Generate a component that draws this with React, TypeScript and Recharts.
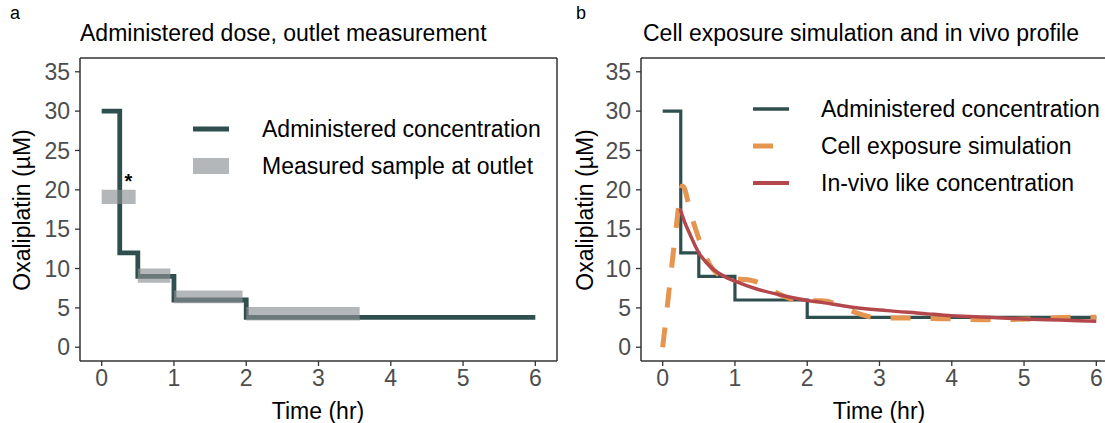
import React from 'react';
import { LineChart, Line, XAxis, YAxis, ReferenceArea, ReferenceDot, ReferenceLine } from 'recharts';

// axis ticks
const timeTicks = [0, 1, 2, 3, 4, 5, 6];
const concTicks = [0, 5, 10, 15, 20, 25, 30, 35];

// administered concentration (step profile)
const doseTime = [0, 0.25, 0.5, 1, 2, 6];
const doseConc = [30, 12, 9, 6, 3.8, 3.8];

// measured samples at outlet (ranges)
const sampleStart = [0, 0.5, 1, 2];
const sampleEnd = [0.47, 0.95, 1.95, 3.57];
const sampleLow = [18.2, 8.2, 5.6, 3.4];
const sampleHigh = [20, 10, 7.2, 5.1];

// cell exposure simulation
const cellTime = [0, 0.05, 0.1, 0.15, 0.2, 0.24, 0.27, 0.3, 0.35, 0.4, 0.47, 0.55, 0.65, 0.75, 0.88, 1.0, 1.15, 1.3, 1.45, 1.6, 1.8, 2.0, 2.2, 2.4, 2.7, 3.0, 3.4, 4.0, 4.5, 5.1, 5.7, 6.0];
const cellConc = [0, 4, 8.2, 12.3, 16.3, 19.4, 20.5, 20.2, 18.5, 16.7, 14.6, 12.6, 10.5, 9.4, 8.9, 8.7, 8.6, 8.3, 7.6, 6.8, 6.1, 5.9, 5.9, 5.5, 4.3, 3.7, 3.7, 3.6, 3.5, 3.6, 3.8, 3.8];

// in-vivo like concentration
const vivoTime = [0.24, 0.3, 0.38, 0.5, 0.6, 0.7, 0.85, 1.0, 1.3, 1.6, 2.0, 2.2, 2.6, 3.1, 3.6, 4.0, 4.5, 5.0, 5.5, 6.0];
const vivoConc = [17.6, 16, 14.3, 12, 10.8, 9.9, 9.0, 8.4, 7.4, 6.7, 5.95, 5.7, 5.1, 4.65, 4.3, 4.0, 3.8, 3.6, 3.45, 3.3];

// asterisk annotation
const starTime = 0.37;
const starConc = 21.1;

const doseData = doseTime.map((t, i) => ({ t, c: doseConc[i] }));
const cellData = cellTime.map((t, i) => ({ t, c: cellConc[i] }));
const vivoData = vivoTime.map((t, i) => ({ t, c: vivoConc[i] }));

const X_DOMAIN: [number, number] = [-0.3, 6.3];
const Y_DOMAIN: [number, number] = [-1.75, 36.75];

const TEAL = '#2F4F4F';
const ORANGE = '#E5954F';
const RED = '#B4474B';
const GREY = 'rgb(140,145,148)';
const FONT = '"Liberation Sans", Arial, sans-serif';
const FS = 23;

type LegendItem = { label: string; kind: 'line' | 'dash' | 'rect'; color: string; width: number };

const Legend = ({ items, top, keyLeft, textLeft, gap }: { items: LegendItem[]; top: number; keyLeft: number; textLeft: number; gap: number }) => (
  <>
    {items.map((it, i) => (
      <div key={it.label} style={{ position: 'absolute', left: keyLeft, top: top + i * gap, transform: 'translateY(-50%)', display: 'flex', alignItems: 'center' }}>
        <svg width={36} height={20}>
          {it.kind === 'rect' ? (
            <rect x={0} y={2} width={36} height={16} fill={GREY} fillOpacity={0.65} />
          ) : (
            <line x1={0} x2={36} y1={10} y2={10} stroke={it.color} strokeWidth={it.width} strokeDasharray={it.kind === 'dash' ? '20 16' : undefined} />
          )}
        </svg>
        <span style={{ position: 'absolute', left: textLeft - keyLeft, whiteSpace: 'nowrap', fontSize: FS, lineHeight: 1, color: '#000' }}>{it.label}</span>
      </div>
    ))}
  </>
);

const border = { stroke: '#333', strokeWidth: 1.5, ifOverflow: 'visible' as const };

// panel b is cut at the right edge of the figure, so its chart is narrower with a negative right margin
const Frame = ({ left, width, right, children }: { left: number; width: number; right: number; children: React.ReactNode }) => (
  <div style={{ position: 'absolute', left, top: 0, width, height: 423 }}>
    <LineChart width={width} height={423} margin={{ top: 58, right, bottom: 22, left: 30 }}>
      <XAxis
        type="number"
        dataKey="t"
        domain={X_DOMAIN}
        ticks={timeTicks}
        allowDataOverflow
        axisLine={false}
        height={40}
        tickSize={5}
        tickMargin={4}
        tickLine={{ stroke: '#333', strokeWidth: 1.3 }}
        tick={{ fill: '#4D4D4D', fontSize: FS, fontFamily: FONT }}
      />
      <YAxis
        type="number"
        domain={Y_DOMAIN}
        ticks={concTicks}
        allowDataOverflow
        axisLine={false}
        width={50}
        tickSize={5}
        tickMargin={5}
        tickLine={{ stroke: '#333', strokeWidth: 1.3 }}
        tick={{ fill: '#4D4D4D', fontSize: FS, fontFamily: FONT }}
      />
      {children}
      {/* panel border */}
      <ReferenceLine x={X_DOMAIN[0]} {...border} />
      <ReferenceLine x={X_DOMAIN[1]} {...border} />
      <ReferenceLine y={Y_DOMAIN[0]} {...border} />
      <ReferenceLine y={Y_DOMAIN[1]} {...border} />
    </LineChart>
  </div>
);

export default function App() {
  return (
    <div style={{ position: 'absolute', left: 0, top: 0, width: 1105, height: 423, overflow: 'hidden', background: '#fff', fontFamily: FONT }}>
      <Frame left={0} width={560} right={3}>
        <Line data={doseData} dataKey="c" type="stepAfter" stroke={TEAL} strokeWidth={4.8} dot={false} isAnimationActive={false} />
        {sampleStart.map((s, i) => (
          <ReferenceArea key={i} x1={s} x2={sampleEnd[i]} y1={sampleLow[i]} y2={sampleHigh[i]} fill={GREY} fillOpacity={0.65} stroke="none" zIndex={600} />
        ))}
        <ReferenceDot x={starTime} y={starConc} r={0} fill="none" stroke="none" label={{ value: '*', position: 'center', fontSize: 20, fill: '#000', fontWeight: 'bold' }} />
      </Frame>
      <Frame left={561} width={544} right={-13}>
        <Line data={doseData} dataKey="c" type="stepAfter" stroke={TEAL} strokeWidth={3.2} dot={false} isAnimationActive={false} />
        <Line data={cellData} dataKey="c" type="monotone" stroke={ORANGE} strokeWidth={5} strokeDasharray="20 20" dot={false} isAnimationActive={false} />
        <Line data={vivoData} dataKey="c" type="monotone" stroke={RED} strokeWidth={3.5} dot={false} isAnimationActive={false} />
      </Frame>

      {/* panel letters and titles */}
      <div style={{ position: 'absolute', left: 10, top: 4, fontSize: 18, lineHeight: 1 }}>a</div>
      <div style={{ position: 'absolute', left: 576, top: 4, fontSize: 18, lineHeight: 1 }}>b</div>
      <div style={{ position: 'absolute', left: 80, top: 33, transform: 'translateY(-50%)', fontSize: FS, lineHeight: 1, whiteSpace: 'nowrap' }}>Administered dose, outlet measurement</div>
      <div style={{ position: 'absolute', left: 643, top: 33, transform: 'translateY(-50%)', fontSize: FS, lineHeight: 1, whiteSpace: 'nowrap' }}>Cell exposure simulation and in vivo profile</div>

      {/* axis titles */}
      {[22, 585].map((x) => (
        <div key={x} style={{ position: 'absolute', left: x, top: 210, transform: 'translate(-50%,-50%) rotate(-90deg)', fontSize: FS, lineHeight: 1, whiteSpace: 'nowrap' }}>Oxaliplatin (µM)</div>
      ))}
      {[318, 879].map((x) => (
        <div key={x} style={{ position: 'absolute', left: x, top: 411, transform: 'translate(-50%,-50%)', fontSize: FS, lineHeight: 1, whiteSpace: 'nowrap' }}>Time (hr)</div>
      ))}

      <Legend
        top={129}
        gap={37}
        keyLeft={193}
        textLeft={262}
        items={[
          { label: 'Administered concentration', kind: 'line', color: TEAL, width: 5 },
          { label: 'Measured sample at outlet', kind: 'rect', color: GREY, width: 16 },
        ]}
      />
      <Legend
        top={109}
        gap={37}
        keyLeft={753}
        textLeft={821}
        items={[
          { label: 'Administered concentration', kind: 'line', color: TEAL, width: 3.5 },
          { label: 'Cell exposure simulation', kind: 'dash', color: ORANGE, width: 5 },
          { label: 'In-vivo like concentration', kind: 'line', color: RED, width: 4 },
        ]}
      />
    </div>
  );
}
